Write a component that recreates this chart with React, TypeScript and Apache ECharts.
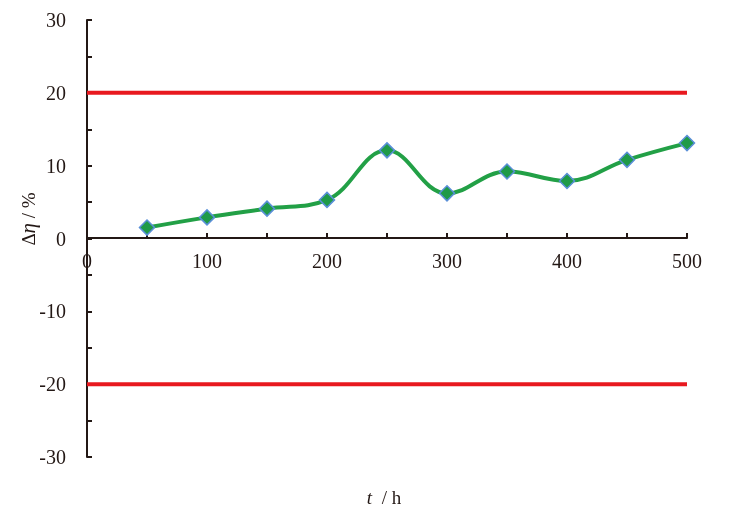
import React, { useEffect, useRef } from "react";
import * as echarts from "echarts";

const hours = [50, 100, 150, 200, 250, 300, 350, 400, 450, 500];
const deltaEta = [1.5, 2.9, 4.1, 5.3, 12.1, 6.2, 9.2, 7.9, 10.8, 13.1];
const upperLimit = 20;
const lowerLimit = -20;
const xRange = [0, 500];

const FONT = "'Liberation Serif', 'Times New Roman', serif";
const INK = "#231815";

export default function App() {
  const ref = useRef<HTMLDivElement>(null);
  useEffect(() => {
    if (!ref.current) return;
    const chart = echarts.init(ref.current, undefined, { renderer: "svg" });
    chart.setOption({
      animation: false,
      grid: { left: 87, right: 51, top: 20, bottom: 70, containLabel: false },
      xAxis: {
        type: "value",
        min: 0,
        max: 500,
        interval: 100,
        position: "bottom",
        offset: -219,
        axisLine: { show: true, onZero: false, lineStyle: { color: INK, width: 2 } },
        axisTick: { show: true, inside: true, length: 5, lineStyle: { color: INK, width: 2 } },
        minorTick: { show: true, splitNumber: 2, length: 5, lineStyle: { color: INK, width: 2 } },
        splitLine: { show: false },
        axisLabel: { color: INK, fontFamily: FONT, fontSize: 20, margin: 13 },
      },
      yAxis: {
        type: "value",
        min: -30,
        max: 30,
        interval: 10,
        axisLine: { show: true, onZero: false, lineStyle: { color: INK, width: 2 } },
        axisTick: { show: true, inside: true, length: 5, lineStyle: { color: INK, width: 2 } },
        minorTick: { show: true, splitNumber: 2, length: 5, lineStyle: { color: INK, width: 2 } },
        splitLine: { show: false },
        axisLabel: { color: INK, fontFamily: FONT, fontSize: 20, margin: 21 },
      },
      graphic: [
        {
          type: "text",
          x: 28,
          y: 219,
          rotation: Math.PI / 2,
          style: {
            text: "Δ{i|η} / %",
            fill: INK,
            font: `19px ${FONT}`,
            align: "center",
            verticalAlign: "middle",
            rich: { i: { fontStyle: "italic", fontFamily: FONT, fontSize: 21, fill: INK } },
          },
        },
        {
          type: "text",
          x: 384,
          y: 497,
          style: {
            text: "{i|t}  / h",
            fill: INK,
            font: `19px ${FONT}`,
            align: "center",
            verticalAlign: "middle",
            rich: { i: { fontStyle: "italic", fontFamily: FONT, fontSize: 19, fill: INK } },
          },
        },
      ],
      series: [
        {
          type: "line",
          data: [[xRange[0], upperLimit], [xRange[1], upperLimit]],
          symbol: "none",
          lineStyle: { color: "#e8191f", width: 4 },
          z: 2,
        },
        {
          type: "line",
          data: [[xRange[0], lowerLimit], [xRange[1], lowerLimit]],
          symbol: "none",
          lineStyle: { color: "#e8191f", width: 4 },
          z: 2,
        },
        {
          type: "line",
          data: hours.map((h, i) => [h, deltaEta[i]]),
          smooth: 0.4,
          symbol: "diamond",
          symbolSize: 15,
          showAllSymbol: true,
          lineStyle: { color: "#22a046", width: 4 },
          itemStyle: { color: "#1f9a48", borderColor: "#5a8fd8", borderWidth: 1.5 },
          z: 3,
        },
      ],
    });
    return () => chart.dispose();
  }, []);
  return <div ref={ref} style={{ position: "fixed", left: 0, top: 0, width: 738, height: 527 }} />;
}
